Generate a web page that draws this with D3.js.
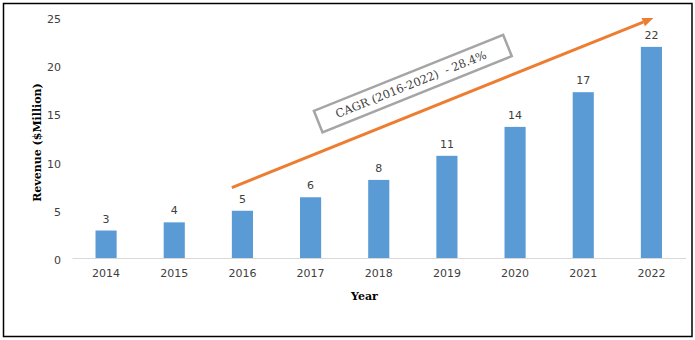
<!DOCTYPE html>
<html>
<head>
<meta charset="utf-8">
<script src="https://cdn.jsdelivr.net/npm/d3@7"></script>
<style>
  html, body { margin: 0; padding: 0; background: #fff; }
  svg { display: block; }
</style>
</head>
<body>
<svg id="chart" width="695" height="340"></svg>
<script>
// Revenue by year ($ million)
const years = ["2014", "2015", "2016", "2017", "2018", "2019", "2020", "2021", "2022"];
const revenue = [2.85, 3.7, 4.9, 6.3, 8.1, 10.6, 13.6, 17.2, 21.9];
const yTicks = [0, 5, 10, 15, 20, 25];
const cagrText = "CAGR (2016-2022)  - 28.4%";

const svg = d3.select("#chart");
const W = 695, H = 340;

svg.append("rect").attr("width", W).attr("height", H).attr("fill", "#fff");
// outer frame
svg.append("rect")
  .attr("x", 3.5).attr("y", 3.5).attr("width", 688.5).attr("height", 333)
  .attr("fill", "none").attr("stroke", "#000").attr("stroke-width", 1.5);

const x = d3.scaleBand().domain(years).range([72, 685.5])
  .paddingInner(0.69).paddingOuter(0.345);
const y = d3.scaleLinear().domain([0, 25]).range([258, 17]);

const tickFont = "'DejaVu Sans', Verdana, sans-serif";
const titleFont = "'DejaVu Serif', serif";

// bars
svg.append("g").selectAll("rect").data(years).join("rect")
  .attr("x", d => x(d))
  .attr("y", (d, i) => y(revenue[i]))
  .attr("width", x.bandwidth())
  .attr("height", (d, i) => y(0) - y(revenue[i]))
  .attr("fill", "#5B9BD5");

// value labels
svg.append("g").selectAll("text").data(years).join("text")
  .attr("x", d => x(d) + x.bandwidth() / 2)
  .attr("y", (d, i) => y(revenue[i]) - 8)
  .attr("text-anchor", "middle")
  .attr("font-family", tickFont).attr("font-size", 11)
  .attr("fill", "#404040")
  .text((d, i) => d3.format(".0f")(revenue[i]));

// x axis
const gx = svg.append("g").attr("transform", `translate(0,${y(0)})`)
  .call(d3.axisBottom(x).tickSize(0).tickPadding(11));
gx.select(".domain").attr("stroke", "#D9D9D9").attr("stroke-width", 1);
gx.selectAll("text").attr("font-family", tickFont).attr("font-size", 11).attr("fill", "#404040");

// y axis
const gy = svg.append("g").attr("transform", "translate(72,0)")
  .call(d3.axisLeft(y).tickValues(yTicks).tickSize(0).tickPadding(11));
gy.select(".domain").remove();
gy.selectAll("text").attr("font-family", tickFont).attr("font-size", 11)
  .attr("fill", "#404040").attr("dy", "0.5em");

// axis titles
svg.append("text")
  .attr("transform", "translate(40.5,142.5) rotate(-90)")
  .attr("text-anchor", "middle")
  .attr("font-family", titleFont).attr("font-weight", "bold").attr("font-size", 11)
  .attr("fill", "#000")
  .text("Revenue ($Million)");

svg.append("text")
  .attr("x", 364.5).attr("y", 299.5)
  .attr("text-anchor", "middle")
  .attr("font-family", titleFont).attr("font-weight", "bold").attr("font-size", 11)
  .attr("fill", "#000")
  .text("Year");

// growth arrow from 2016 to 2022
const ax0 = x("2016"), ay0 = y(7.3);
const ax1 = x("2022") + x.bandwidth() / 2 + 2, ay1 = y(24.9);
const ang = Math.atan2(ay1 - ay0, ax1 - ax0);
const headLen = 11, headHalf = 4.5;
const bx = ax1 - headLen * Math.cos(ang), by = ay1 - headLen * Math.sin(ang);
svg.append("line")
  .attr("x1", ax0).attr("y1", ay0).attr("x2", bx).attr("y2", by)
  .attr("stroke", "#ED7D31").attr("stroke-width", 3);
svg.append("polygon")
  .attr("points", [
    [ax1, ay1],
    [bx + headHalf * Math.sin(ang), by - headHalf * Math.cos(ang)],
    [bx - headHalf * Math.sin(ang), by + headHalf * Math.cos(ang)]
  ].map(p => p.join(",")).join(" "))
  .attr("fill", "#ED7D31");

// CAGR callout box
const cx = (x("2018") + x("2019") + x.bandwidth()) / 2, cy = y(18.1);
const deg = ang * 180 / Math.PI;
const box = svg.append("g").attr("transform", `translate(${cx},${cy}) rotate(${deg})`);
box.append("rect")
  .attr("x", -102).attr("y", -11.5).attr("width", 204).attr("height", 23)
  .attr("fill", "#fff").attr("stroke", "#A5A5A5").attr("stroke-width", 2.5);
box.append("text")
  .attr("x", -2).attr("y", 4)
  .attr("text-anchor", "middle")
  .attr("font-family", titleFont).attr("font-size", 11.5)
  .attr("fill", "#404040")
  .attr("xml:space", "preserve")
  .style("white-space", "pre")
  .text(cagrText);
</script>
</body>
</html>
